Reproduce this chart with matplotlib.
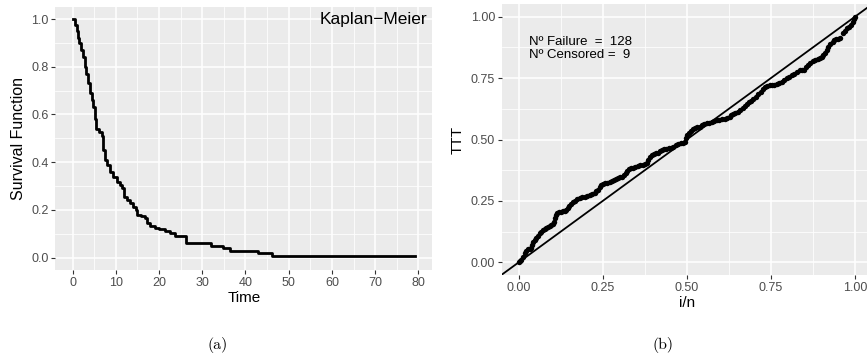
"""Kaplan-Meier survival curve and TTT plot, ggplot-like panels."""
import numpy as np
import matplotlib
matplotlib.use('Agg')
import matplotlib.pyplot as plt

plt.rcParams['font.family'] = ['Liberation Sans', 'DejaVu Sans']

# Kaplan-Meier step curve
km_time = [0.0, 0.5, 0.9, 1.3, 1.5, 2.0, 2.4, 2.85, 3.2, 3.6, 4.0, 4.4, 4.8,
           5.2, 5.4, 6.0, 6.8, 7.1, 7.6, 8.0, 8.6, 9.4, 10.2, 10.9, 11.5,
           11.8, 12.5, 13.2, 14.0, 14.6, 14.9, 15.9, 16.7, 17.2, 18.0, 19.0,
           19.9, 21.3, 22.5, 23.6, 26.2, 32.1, 34.8, 36.5, 43.0, 46.1, 79.2]
km_surv = [1.0, 0.975, 0.95, 0.92, 0.9, 0.87, 0.84, 0.8, 0.77, 0.73, 0.69,
           0.66, 0.63, 0.58, 0.54, 0.525, 0.51, 0.452, 0.41, 0.389, 0.361,
           0.34, 0.319, 0.305, 0.291, 0.256, 0.242, 0.228, 0.214, 0.2, 0.179,
           0.175, 0.165, 0.144, 0.133, 0.126, 0.119, 0.112, 0.102, 0.091,
           0.06, 0.05, 0.04, 0.03, 0.02, 0.0078, 0.0078]

# TTT points
ttt_u = [0.000, 0.004, 0.008, 0.013, 0.018, 0.023, 0.028, 0.033, 0.038, 0.040,
         0.043, 0.048, 0.052, 0.057, 0.062, 0.067, 0.072, 0.077, 0.082, 0.087,
         0.092, 0.097, 0.102, 0.106, 0.109, 0.112, 0.115, 0.121, 0.127, 0.132,
         0.137, 0.142, 0.147, 0.151, 0.156, 0.162, 0.168, 0.174, 0.181, 0.188,
         0.196, 0.203, 0.211, 0.218, 0.226, 0.231, 0.236, 0.241, 0.246, 0.251,
         0.257, 0.263, 0.270, 0.276, 0.283, 0.289, 0.295, 0.301, 0.307, 0.313,
         0.320, 0.323, 0.327, 0.333, 0.340, 0.347, 0.354, 0.361, 0.369, 0.375,
         0.382, 0.385, 0.389, 0.395, 0.402, 0.408, 0.414, 0.420, 0.426, 0.432,
         0.439, 0.446, 0.453, 0.460, 0.468, 0.475, 0.483, 0.489, 0.495, 0.498,
         0.501, 0.506, 0.511, 0.517, 0.523, 0.530, 0.538, 0.545, 0.552, 0.559,
         0.567, 0.574, 0.582, 0.589, 0.597, 0.604, 0.612, 0.619, 0.627, 0.632,
         0.637, 0.644, 0.651, 0.658, 0.666, 0.672, 0.679, 0.685, 0.691, 0.698,
         0.706, 0.713, 0.721, 0.726, 0.731, 0.738, 0.746, 0.752, 0.760, 0.767,
         0.775, 0.782, 0.790, 0.797, 0.805, 0.812, 0.820, 0.827, 0.835, 0.842,
         0.848, 0.853, 0.859, 0.866, 0.874, 0.881, 0.889, 0.895, 0.901, 0.906,
         0.911, 0.916, 0.921, 0.927, 0.934, 0.939, 0.944, 0.950, 0.956, 0.963,
         0.969, 0.976, 0.982, 0.988, 0.993, 0.996, 1.000]
ttt_v = [0.000, 0.005, 0.009, 0.023, 0.037, 0.047, 0.053, 0.056, 0.057, 0.071,
         0.084, 0.091, 0.098, 0.109, 0.118, 0.125, 0.132, 0.137, 0.141, 0.145,
         0.148, 0.152, 0.156, 0.166, 0.179, 0.193, 0.202, 0.205, 0.206, 0.208,
         0.209, 0.214, 0.220, 0.229, 0.237, 0.244, 0.251, 0.256, 0.261, 0.265,
         0.267, 0.271, 0.274, 0.280, 0.284, 0.289, 0.294, 0.305, 0.315, 0.319,
         0.322, 0.324, 0.327, 0.331, 0.335, 0.339, 0.342, 0.346, 0.349, 0.355,
         0.362, 0.372, 0.380, 0.383, 0.385, 0.389, 0.392, 0.395, 0.398, 0.402,
         0.406, 0.418, 0.430, 0.436, 0.441, 0.444, 0.446, 0.452, 0.457, 0.460,
         0.463, 0.464, 0.465, 0.471, 0.476, 0.480, 0.484, 0.487, 0.491, 0.505,
         0.518, 0.528, 0.536, 0.541, 0.545, 0.550, 0.552, 0.558, 0.562, 0.566,
         0.569, 0.573, 0.577, 0.578, 0.579, 0.582, 0.585, 0.589, 0.593, 0.598,
         0.602, 0.608, 0.613, 0.620, 0.627, 0.635, 0.643, 0.651, 0.658, 0.666,
         0.674, 0.684, 0.695, 0.704, 0.712, 0.716, 0.720, 0.722, 0.722, 0.725,
         0.729, 0.735, 0.742, 0.749, 0.756, 0.761, 0.767, 0.775, 0.783, 0.783,
         0.783, 0.794, 0.803, 0.811, 0.820, 0.824, 0.826, 0.832, 0.837, 0.845,
         0.853, 0.864, 0.878, 0.889, 0.898, 0.904, 0.908, 0.910, 0.912, 0.932,
         0.943, 0.953, 0.959, 0.966, 0.980, 0.989, 1.000]

n_failure = 128
n_censored = 9

BG = '#EBEBEB'
TICK_COL = '#4D4D4D'


def gg_axes(ax, xmajor, xminor, ymajor, yminor, xfmt, yfmt):
    ax.set_facecolor(BG)
    for s in ax.spines.values():
        s.set_visible(False)
    ax.set_xticks(xmajor)
    ax.set_xticks(xminor, minor=True)
    ax.set_yticks(ymajor)
    ax.set_yticks(yminor, minor=True)
    ax.set_xticklabels([xfmt.format(v) for v in xmajor])
    ax.set_yticklabels([yfmt.format(v) for v in ymajor])
    ax.grid(which='major', color='white', lw=1.1)
    ax.grid(which='minor', color='white', lw=0.55)
    ax.set_axisbelow(True)
    ax.tick_params(which='major', length=3.0, width=0.8, color='#333333',
                   labelsize=9, labelcolor=TICK_COL, pad=2)
    ax.tick_params(which='minor', length=0)


fig = plt.figure(figsize=(8.67, 3.6), dpi=100)
W, H = 867.0, 360.0

# panel (a)
ax1 = fig.add_axes([55.5 / W, 1 - 269.6 / H, (432 - 55.5) / W, (269.6 - 7.1) / H])
ax1.step(km_time, km_surv, where='post', color='black', lw=2.0)
ax1.set_xlim(-3.96, 83.16)
ax1.set_ylim(-0.05, 1.05)
gg_axes(ax1, np.arange(0, 81, 10), np.arange(5, 80, 10),
        np.arange(0, 1.01, 0.2), np.arange(0.1, 1.0, 0.2), '{:.0f}', '{:.1f}')
ax1.set_xlabel('Time', fontsize=11, labelpad=2)
ax1.set_ylabel('Survival Function', fontsize=11.5, labelpad=4)
ax1.text(82.0, 1.0, 'Kaplan\u2212Meier', ha='right', va='center', fontsize=12.5)

# panel (b)
ax2 = fig.add_axes([501.9 / W, 1 - 274.6 / H, (871.8 - 501.9) / W, (274.6 - 4.4) / H])
ax2.plot(ttt_u, ttt_v, 'o', color='black', ms=3.9, mew=0)
ax2.plot([-0.2, 1.2], [-0.2, 1.2], color='black', lw=1.3)
ax2.set_xlim(-0.05, 1.05)
ax2.set_ylim(-0.05, 1.05)
gg_axes(ax2, [0, 0.25, 0.5, 0.75, 1.0], [0.125, 0.375, 0.625, 0.875],
        [0, 0.25, 0.5, 0.75, 1.0], [0.125, 0.375, 0.625, 0.875], '{:.2f}', '{:.2f}')
ax2.set_xlabel('i/n', fontsize=11, labelpad=2)
ax2.set_ylabel('TTT', fontsize=11, labelpad=4)
ax2.text(0.031, 0.895, 'N\u00ba Failure  =  {}'.format(n_failure),
         ha='left', va='center', fontsize=9.5)
ax2.text(0.031, 0.846, 'N\u00ba Censored =  {}'.format(n_censored),
         ha='left', va='center', fontsize=9.5)

# subfigure captions
fig.text(218 / W, 1 - 345 / H, '(a)', ha='center', va='center',
         family='cmr10', fontsize=11.5)
fig.text(663 / W, 1 - 345 / H, '(b)', ha='center', va='center',
         family='cmr10', fontsize=11.5)

fig.savefig('out.png', dpi=100)
